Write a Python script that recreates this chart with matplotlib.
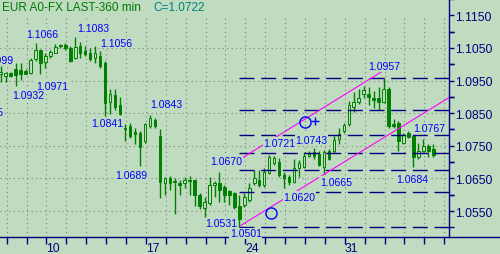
import matplotlib
matplotlib.use("Agg")
import matplotlib.pyplot as plt
import numpy as np
from matplotlib.lines import Line2D

plt.rcParams['font.family'] = ['Liberation Sans', 'DejaVu Sans']

BG = "#C0DCC0"
NAVY = "#000080"
GREEN = "#008000"
BLUE = "#0000FF"
PINK = "#FF00FF"

# 360 min candles (open, high, low, close)
opens = [1.0969, 1.0963, 1.0973, 1.0984, 1.0981, 1.0978, 1.0972, 1.1015, 1.1045, 1.1007,
         1.1025, 1.1035, 1.1055, 1.1060, 1.1050, 1.1020, 1.1055, 1.1040, 1.1033, 1.1020,
         1.1025, 1.1005, 1.0883, 1.0906, 1.0876, 1.0804, 1.0810, 1.0792, 1.0789, 1.0765,
         1.0810, 1.0828, 1.0780, 1.0636, 1.0651, 1.0643, 1.0636, 1.0636, 1.0645, 1.0645,
         1.0600, 1.0560, 1.0575, 1.0630, 1.0636, 1.0624, 1.0612, 1.0606, 1.0564, 1.0570,
         1.0585, 1.0636, 1.0645, 1.0630, 1.0666, 1.0696, 1.0700, 1.0660, 1.0655, 1.0640,
         1.0681, 1.0685, 1.0720, 1.0730, 1.0726, 1.0684, 1.0735, 1.0733, 1.0771, 1.0795,
         1.0816, 1.0870, 1.0883, 1.0909, 1.0909, 1.0897, 1.0895, 1.0885, 1.0925, 1.0816,
         1.0820, 1.0760, 1.0790, 1.0780, 1.0715, 1.0733, 1.0750, 1.0741]
highs = [1.0996, 1.0975, 1.0975, 1.1005, 1.1005, 1.0984, 1.1020, 1.1066, 1.1047, 1.1035,
         1.1045, 1.1062, 1.1063, 1.1065, 1.1057, 1.1083, 1.1067, 1.1055, 1.1050, 1.1056,
         1.1040, 1.1010, 1.0925, 1.0925, 1.0900, 1.0816, 1.0819, 1.0804, 1.0795, 1.0820,
         1.0843, 1.0835, 1.0801, 1.0654, 1.0657, 1.0651, 1.0645, 1.0653, 1.0657, 1.0648,
         1.0606, 1.0594, 1.0655, 1.0642, 1.0670, 1.0630, 1.0615, 1.0609, 1.0600, 1.0606,
         1.0636, 1.0675, 1.0675, 1.0681, 1.0721, 1.0719, 1.0712, 1.0670, 1.0660, 1.0711,
         1.0705, 1.0730, 1.0735, 1.0743, 1.0735, 1.0738, 1.0741, 1.0780, 1.0805, 1.0819,
         1.0888, 1.0915, 1.0925, 1.0933, 1.0930, 1.0918, 1.0930, 1.0957, 1.0930, 1.0831,
         1.0825, 1.0790, 1.0795, 1.0783, 1.0760, 1.0771, 1.0756, 1.0756]
lows = [1.0945, 1.0945, 1.0960, 1.0932, 1.0951, 1.0969, 1.0969, 1.1011, 1.0971, 1.0990,
        1.1020, 1.1033, 1.1050, 1.1045, 1.1007, 1.1017, 1.1020, 1.1025, 1.1010, 1.1005,
        1.0990, 1.0841, 1.0846, 1.0861, 1.0843, 1.0765, 1.0774, 1.0756, 1.0689, 1.0759,
        1.0804, 1.0805, 1.0591, 1.0600, 1.0615, 1.0540, 1.0600, 1.0620, 1.0600, 1.0564,
        1.0555, 1.0531, 1.0570, 1.0594, 1.0579, 1.0579, 1.0570, 1.0555, 1.0501, 1.0561,
        1.0579, 1.0630, 1.0624, 1.0624, 1.0664, 1.0690, 1.0655, 1.0620, 1.0630, 1.0635,
        1.0655, 1.0681, 1.0715, 1.0711, 1.0687, 1.0665, 1.0705, 1.0729, 1.0756, 1.0789,
        1.0810, 1.0855, 1.0879, 1.0895, 1.0876, 1.0865, 1.0861, 1.0880, 1.0805, 1.0804,
        1.0735, 1.0755, 1.0774, 1.0684, 1.0711, 1.0730, 1.0715, 1.0715]
closes = [1.0975, 1.0973, 1.0963, 1.0966, 1.0969, 1.0970, 1.1014, 1.1045, 1.1003, 1.1025,
          1.1037, 1.1053, 1.1060, 1.1050, 1.1010, 1.1053, 1.1035, 1.1030, 1.1017, 1.1035,
          1.0995, 1.0880, 1.0910, 1.0870, 1.0846, 1.0801, 1.0780, 1.0786, 1.0745, 1.0817,
          1.0834, 1.0810, 1.0639, 1.0651, 1.0636, 1.0639, 1.0630, 1.0645, 1.0643, 1.0600,
          1.0564, 1.0579, 1.0630, 1.0636, 1.0615, 1.0600, 1.0600, 1.0561, 1.0525, 1.0594,
          1.0621, 1.0651, 1.0630, 1.0670, 1.0716, 1.0712, 1.0660, 1.0651, 1.0640, 1.0681,
          1.0696, 1.0720, 1.0726, 1.0720, 1.0690, 1.0732, 1.0711, 1.0768, 1.0786, 1.0813,
          1.0876, 1.0885, 1.0897, 1.0921, 1.0901, 1.0891, 1.0885, 1.0925, 1.0810, 1.0810,
          1.0765, 1.0783, 1.0777, 1.0715, 1.0735, 1.0750, 1.0735, 1.0722]

# swing labels: (bar position of text start, baseline price, text)
lbl_x = [5.1, 15.35, 19.97, 2.27, 7.1, 18.3, 30.0, 23.0, 42.1, 41.1, 46.1,
         52.8, 59.2, 56.8, 64.2, 73.9, 79.6, 83.0]
lbl_y = [1.1085, 1.1103, 1.1057, 1.0897, 1.0925, 1.0810, 1.0870, 1.0650, 1.0695, 1.0504, 1.0473,
         1.0750, 1.0760, 1.0585, 1.0630, 1.0985, 1.0639, 1.0795]
lbl_txt = ["1.1066", "1.1083", "1.1056", "1.0932", "1.0971", "1.0841", "1.0843", "1.0689",
           "1.0670", "1.0531", "1.0501", "1.0721", "1.0743", "1.0620", "1.0665", "1.0957",
           "1.0684", "1.0767"]
# labels cut at the left edge (right aligned)
cut_x = [2.47, 0.46]
cut_y = [1.1005, 1.0845]
cut_txt = ["1.0999", "1.0855"]

# trend channel
chan_lo_x = [48.3, 90.2]
chan_lo_y = [1.0506, 1.0898]
chan_up_x = [48.7, 76.7]
chan_up_y = [1.0714, 1.0978]
ring_x = [54.3, 61.3]
ring_y = [1.0545, 1.0822]
plus_x = [63.2]
plus_y = [1.0825]

fib_ratios = [0, 0.236, 0.382, 0.5, 0.618, 0.786, 1.0]
fib_lo_bar = 48
fib_hi_bar = 77

day_ticks = [1.207 + 4 * j for j in range(23)]
week_ticks = [9.207, 29.207, 49.207, 69.207]
week_labels = ["10", "17", "24", "31"]
price_major = [1.0550, 1.0650, 1.0750, 1.0850, 1.0950, 1.1050, 1.1150]
price_minor = [1.0500, 1.0600, 1.0700, 1.0800, 1.0900, 1.1000, 1.1100]
price_minor = [p + 0.0 for p in price_minor] + [p + 0.005 for p in price_major]
grid_prices = price_major[:-1]

XMIN, XMAX = -0.14, 90.16
YMIN, YMAX = 1.04704, 1.11851

fig = plt.figure(figsize=(5, 2.55), dpi=100)
fig.patch.set_facecolor(BG)
ax = fig.add_axes([0, 17 / 255, 449 / 500, 238 / 255])
ax.set_facecolor(BG)
ax.set_xlim(XMIN, XMAX)
ax.set_ylim(YMIN, YMAX)

# grid
ax.vlines(day_ticks, YMIN, 1.1150, colors="#808080", linestyles=(0, (1, 3)), lw=0.8, zorder=0)
ax.hlines(grid_prices, XMIN, XMAX, colors="#808080", linestyles=(0, (1, 3)), lw=0.8, zorder=0)

# candles
o = np.array(opens); h = np.array(highs); l = np.array(lows); c = np.array(closes)
x = np.arange(len(o))
up = c >= o
ax.vlines(x, l, h, color=GREEN, lw=1, zorder=2)
bottoms = np.minimum(o, c)
heights = np.maximum(np.abs(c - o), 0.00008)
ax.bar(x, heights, bottom=bottoms, width=0.5, color=np.where(up, BG, GREEN),
       edgecolor=GREEN, lw=0.7, zorder=3)

# fibonacci levels
lo = l[fib_lo_bar]; hi = h[fib_hi_bar]
fib_prices = [lo + r * (hi - lo) for r in fib_ratios]
ax.hlines(fib_prices, fib_lo_bar, XMAX, colors=NAVY, linestyles=(0, (10.8, 4.8)), lw=1, zorder=4)

# channel
ax.plot(chan_lo_x, chan_lo_y, color=PINK, lw=0.8, zorder=5)
ax.plot(chan_up_x, chan_up_y, color=PINK, lw=0.8, zorder=5)
ax.plot(ring_x, ring_y, 'o', ms=8, mfc='none', mec=BLUE, mew=1, zorder=7)
ax.plot(plus_x, plus_y, '+', ms=6, mec=BLUE, mew=1, zorder=7)

box = dict(boxstyle="square,pad=0.05", fc=BG, ec="none")
for xx, yy, t in zip(lbl_x, lbl_y, lbl_txt):
    ax.text(xx, yy, t, color=BLUE, fontsize=7.6, ha='left', va='baseline', bbox=box, zorder=6)
for xx, yy, t in zip(cut_x, cut_y, cut_txt):
    ax.text(xx, yy, t, color=BLUE, fontsize=7.6, ha='right', va='baseline', bbox=box, zorder=6)

# axes
for s in ['left', 'top']:
    ax.spines[s].set_visible(False)
for s in ['right', 'bottom']:
    ax.spines[s].set_color(NAVY)
    ax.spines[s].set_linewidth(1.0)
fig.add_artist(Line2D([449 / 500, 1], [17 / 255, 17 / 255], color=NAVY, lw=1.0))

ax.yaxis.tick_right()
ax.set_yticks(price_major)
ax.set_yticklabels(["%.4f" % p for p in price_major])
ax.set_yticks(price_minor, minor=True)
ax.tick_params(axis='y', which='both', direction='out', length=3.6, width=1,
               color=NAVY, labelcolor=NAVY, labelsize=8.7, pad=0.5)
ax.set_xticks(week_ticks)
ax.set_xticklabels(week_labels)
ax.set_xticks(day_ticks, minor=True)
ax.tick_params(axis='x', which='both', direction='out', length=5, width=1,
               color=NAVY, labelcolor=NAVY, labelsize=8.7, pad=-1.5)
for t in ax.get_xticklabels():
    t.set_ha('left')

fig.text(2 / 500, 1 - 11.3 / 255, "EUR A0-FX LAST-360 min", color="#007800",
         fontsize=8.5, va='baseline')
fig.text(153 / 500, 1 - 11.3 / 255, "C=1.0722", color="#008080", fontsize=8.5, va='baseline')

fig.savefig("out.png", dpi=100, facecolor=BG)
